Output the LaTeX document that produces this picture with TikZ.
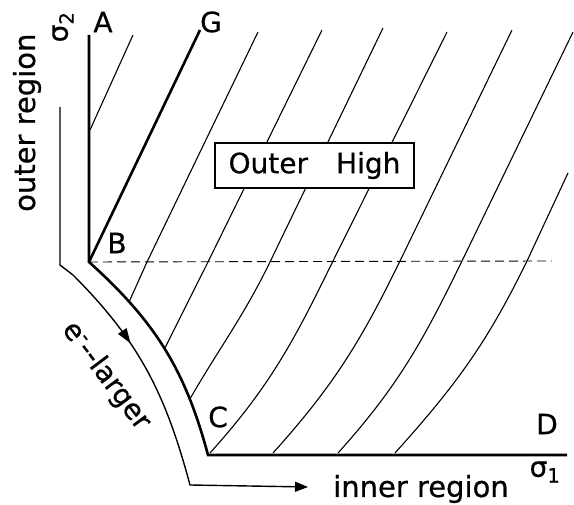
\documentclass[tikz,border=0pt]{standalone}
\usepackage{fontspec}
\setmainfont{DejaVu Sans}
\newfontfamily\letterfont{DejaVu Sans}[FakeBold=0.6]
\usetikzlibrary{arrows.meta, decorations.markings}

\tikzset{
  bound/.style={line width=2.6pt, line join=miter},
  hatch/.style={line width=1.1pt},
  guide/.style={line width=0.9pt, dash pattern=on 9pt off 5pt},
  track/.style={line width=1.4pt},
  lettering/.style={font=\letterfont\fontsize{28}{30}\selectfont, inner sep=0pt},
  wording/.style={font=\letterfont\fontsize{29}{31}\selectfont, inner sep=0pt},
  namebox/.style={draw, fill=white, line width=1.1pt,
    minimum width=199pt, minimum height=45pt,
    font=\letterfont\fontsize{28}{30}\selectfont}
}

\begin{document}
\begin{tikzpicture}[x=1pt, y=1pt]
  \useasboundingbox (0,0) rectangle (574,505);

  % corners of the surface
  \coordinate (A) at (89,470);
  \coordinate (B) at (89,243);
  \coordinate (C) at (208,50);
  \coordinate (D) at (567,50);
  \coordinate (G) at (200,475);
  \coordinate (Bend) at (552,244);

  % B--C curve, with points on it for the hatching
  \path (B) to[out=-42,in=105]
    coordinate[pos=0.23] (c1)
    coordinate[pos=0.5]  (c2)
    coordinate[pos=0.76] (c3) (C);

  % hatching
  \draw[hatch] (90,375) -- (133,470);
  \draw[hatch] (c1) -- (147,243) -- (258,473);
  \draw[hatch] (c2) -- (208,243) -- (322,475);
  \draw[hatch] (c3) to[out=60,in=244] (270,243) -- (383,477);
  \foreach \bx/\mx/\tx/\ty in {210/333/447/473, 273/400/512/475, 338/462/573/473, 395/527/568/332}
    \draw[hatch] (\bx,52) to[out=48,in=244] (\mx,244) -- (\tx,\ty);

  \draw[guide] (B) -- (Bend);

  % thick boundary
  \draw[bound] (A) -- (B) to[out=-42,in=105] (C) -- (D);
  \draw[bound] (B) -- (G);

  % path along the boundary
  \coordinate (trackTop) at (60,398);
  \coordinate (trackBend) at (60,240);
  \coordinate (trackKnee) at (73,230);
  \coordinate (trackCorner) at (190,20);
  \coordinate (trackEnd) at (308,18);
  \draw[track, -{Triangle[length=13pt,width=10pt]},
    postaction={decorate, decoration={markings,
      mark=at position 264pt with {\arrow{Triangle[length=15pt,width=10pt]}}}}]
    (trackTop) -- (trackBend) -- (trackKnee) to[out=-45,in=105] (trackCorner) -- (trackEnd);

  % labels
  \node[lettering] (labA) at (103,483) {A};
  \node[lettering] (labG) at (211,483) {G};
  \node[lettering] (labB) at (117,262) {B};
  \node[lettering] (labC) at (218,88) {C};
  \node[lettering] (labD) at (547,81) {D};
  \node[lettering, rotate=90] (sig2) at (63,478) {σ\textsubscript{2}};
  \node[lettering] (sig1) at (545,33) {σ\textsubscript{1}};
  \node[wording, rotate=90, anchor=base west] (outreg) at (35,293) {outer region};
  \node[wording, anchor=base west] (inreg) at (333,8) {inner region};
  \node[lettering, rotate=-53] (elarger) at (106,129) {e\textsuperscript{-}--larger};
  \node[namebox] (high) at (314.5,339.5) {Outer\quad High};
\end{tikzpicture}
\end{document}
